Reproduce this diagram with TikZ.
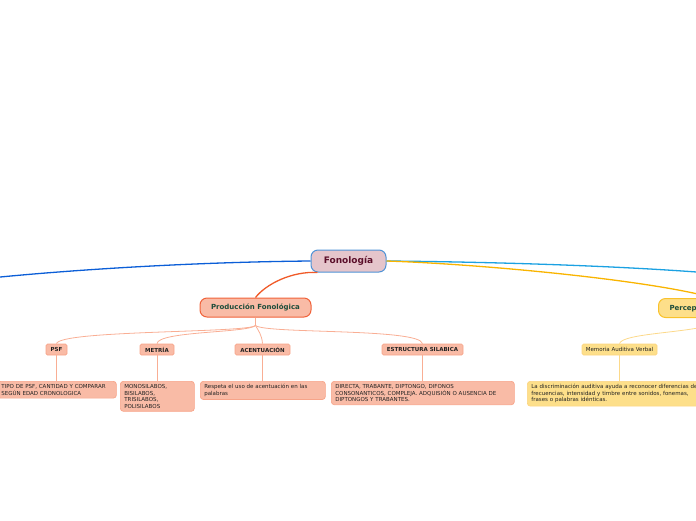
\documentclass[tikz,border=0pt]{standalone}
\usepackage{fontspec}
\setmainfont{DejaVu Sans}
\definecolor{fonfill}{HTML}{E5C5CB}
\definecolor{fonbord}{HTML}{4F93D6}
\definecolor{fontext}{HTML}{5B0F2A}
\definecolor{salfill}{HTML}{F9BBA6}
\definecolor{salbord}{HTML}{F0623A}
\definecolor{sallight}{HTML}{F7A489}
\definecolor{salline}{HTML}{F9AE94}
\definecolor{greentext}{HTML}{1E4D3B}
\definecolor{yelfill}{HTML}{FDDF8A}
\definecolor{yelbord}{HTML}{F9C22B}
\definecolor{yellight}{HTML}{FCD480}
\definecolor{yelline}{HTML}{FCD98A}
\definecolor{darkblue}{HTML}{0B5ED7}
\definecolor{lightblue}{HTML}{1BA1E2}
\definecolor{yelmain}{HTML}{F9B400}
\definecolor{orgmain}{HTML}{F05A28}
\definecolor{txt}{HTML}{222222}
\tikzset{
  root/.style={draw=fonbord, fill=fonfill, line width=1pt, rounded corners=7pt,
    minimum width=75pt, minimum height=22pt, inner sep=0pt,
    font=\fontsize{9}{10}\selectfont\bfseries, text=fontext},
  main/.style={line width=1pt, rounded corners=7pt, minimum height=19pt, inner sep=0pt,
    font=\fontsize{7}{8}\selectfont\bfseries, text=greentext},
  sub/.style={draw=sallight, fill=salfill, line width=0.7pt, rounded corners=1.5pt,
    minimum height=11pt, inner xsep=3pt, inner ysep=0pt,
    font=\fontsize{5.5}{6}\selectfont\bfseries, text=txt},
  leaf/.style={draw=sallight, fill=salfill, line width=0.7pt, rounded corners=3pt,
    inner xsep=4pt, inner ysep=3pt, align=left, anchor=north west,
    font=\fontsize{5.5}{6.6}\selectfont, text=txt},
  minor/.style={draw=salline, line width=0.8pt},
  yminor/.style={draw=yelline, line width=0.8pt},
  big/.style={line width=1.3pt},
}
\begin{document}
\begin{tikzpicture}[x=1pt,y=-1pt]
\useasboundingbox (0,0) rectangle (696,520);
% root
\node[root] (fon) at (348.5,261) {Fonología};
% main topics
\node[main, draw=salbord, fill=salfill, minimum width=111pt] (prod) at (255.5,307.5) {Producción Fonológica};
\node[main, draw=yelbord, fill=yelfill, anchor=west, inner xsep=11pt] (perc) at (658,308) {Percepción Fonológica};
% offpage ends
\coordinate (leftend) at (-10,278);
\coordinate (rightend) at (710,273);
% main connectors
\draw[big, darkblue] (fon.west) .. controls (200,262) and (80,269) .. (leftend);
\draw[big, lightblue] (fon.east) .. controls (500,262) and (620,266) .. (rightend);
\draw[big, yelmain] (fon.east) .. controls (480,264) and (650,280) .. (perc.north);
\draw[big, orgmain] ([xshift=7pt]fon.south west) .. controls (292,271) and (266,284) .. (prod.north);
% level 2
\node[sub, minimum width=21pt] (psf) at (56.5,349.5) {PSF};
\node[sub, minimum width=34pt] (metria) at (157,349.5) {METRÍA};
\node[sub, minimum width=55pt] (acen) at (262.5,349.5) {ACENTUACIÓN};
\node[sub, minimum width=81pt] (estr) at (422.5,349.5) {ESTRUCTURA SILABICA};
\node[sub, draw=yellight, fill=yelfill, font=\fontsize{5.5}{6}\selectfont, minimum width=75pt] (mem) at (619.5,349.5) {Memoria Auditiva Verbal};
% hubs
\draw[minor] (prod.south) -- ++(0,8) coordinate (hub);
\draw[minor] (hub) .. controls (248,333) and (60,330) .. (psf.north);
\draw[minor] (hub) .. controls (248,333) and (158,331) .. (metria.north);
\draw[minor] (hub) .. controls (258,330) and (262,335) .. (acen.north);
\draw[minor] (hub) .. controls (266,334) and (420,328) .. (estr.north);
\draw[yminor] (perc.south) -- ++(0,6) coordinate (phub);
\draw[yminor] (phub) .. controls (690,333) and (622,333) .. (mem.north);
% level 3
\node[leaf, text width=111pt] (tipo) at (-3,381) {TIPO DE PSF, CANTIDAD Y COMPARAR\\SEGÚN EDAD CRONOLOGICA};
\node[leaf, text width=66pt] (mono) at (120,381) {MONOSILABOS,\\BISILABOS,\\TRISILABOS,\\POLISILABOS};
\node[leaf, text width=117pt] (resp) at (200,381) {Respeta el uso de acentuación en las\\palabras};
\node[leaf, text width=175pt] (dir) at (331,381) {DIRECTA, TRABANTE, DIPTONGO, DIFONOS\\CONSONANTICOS, COMPLEJA. ADQUISIÓN O AUSENCIA DE\\DIPTONGOS Y TRABANTES.};
\node[leaf, draw=yellight, fill=yelfill, text width=180pt] (disc) at (527,381) {La discriminación auditiva ayuda a reconocer diferencias de\\frecuencias, intensidad y timbre entre sonidos, fonemas,\\frases o palabras idénticas.};
% level 3 connectors
\draw[minor] (psf.south) -- (psf.south |- tipo.north);
\draw[minor] (metria.south) -- (metria.south |- mono.north);
\draw[minor] (acen.south) -- (acen.south |- resp.north);
\draw[minor] (estr.south) -- (estr.south |- dir.north);
\draw[yminor] (mem.south) -- (mem.south |- disc.north);
\end{tikzpicture}
\end{document}
